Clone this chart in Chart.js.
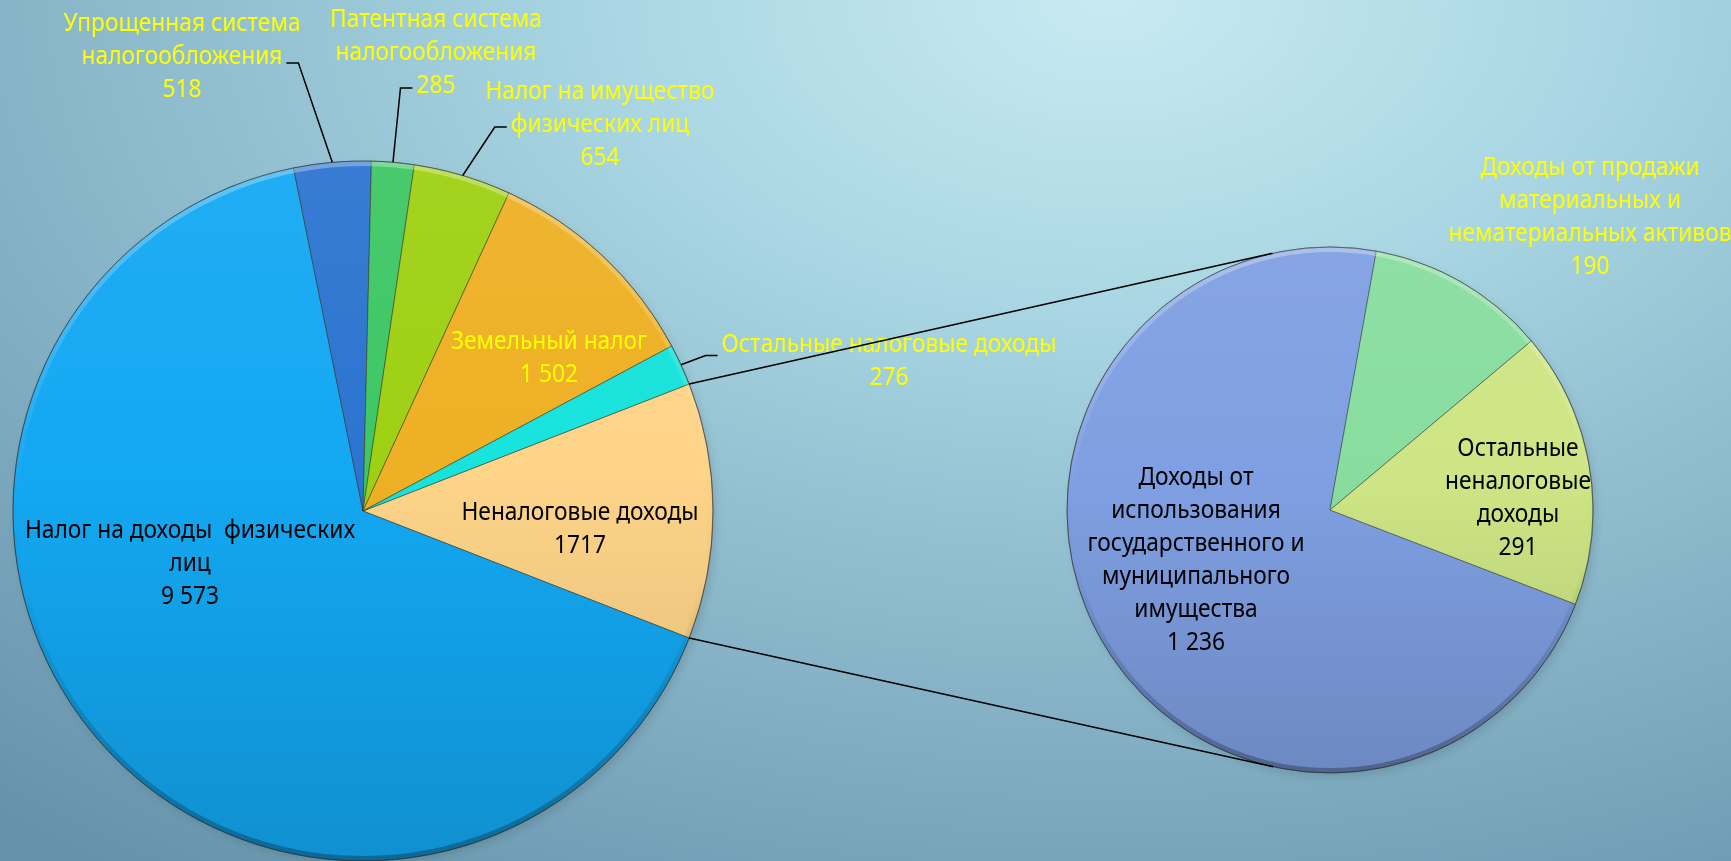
<!DOCTYPE html>
<html lang="ru">
<head>
<meta charset="utf-8">
<title>Структура доходов</title>
<script src="https://cdn.jsdelivr.net/npm/chart.js@4.4.1/dist/chart.umd.min.js"></script>
<style>
  html, body { margin: 0; padding: 0; width: 1731px; height: 861px; overflow: hidden; }
  body {
    background: radial-gradient(ellipse 100% 125% at 64% 0%, #c8eaf2 0%, #aad7e3 28%, #88b5c8 62%, #6592aa 100%);
  }
  canvas { position: absolute; left: 0; top: 0; }
</style>
</head>
<body>
<canvas id="mainPie" width="1731" height="861"></canvas>
<canvas id="subPie" width="1731" height="861"></canvas>
<script>
// основной круг
const mainCategories = [
  ['Неналоговые доходы'],
  ['Налог на доходы  физических', 'лиц'],
  ['Упрощенная система', 'налогообложения'],
  ['Патентная система', 'налогообложения'],
  ['Налог на имущество', 'физических лиц'],
  ['Земельный налог'],
  ['Остальные налоговые доходы'],
];
const mainValues = [1717, 9573, 518, 285, 654, 1502, 276];
const mainValueText = ['1717', '9 573', '518', '285', '654', '1 502', '276'];

// вторичный круг (расшифровка неналоговых доходов)
const subCategories = [
  ['Доходы от', 'использования', 'государственного и', 'муниципального', 'имущества'],
  ['Доходы от продажи', 'материальных и', 'нематериальных активов'],
  ['Остальные', 'неналоговые', 'доходы'],
];
const subValues = [1236, 190, 291];
const subValueText = ['1 236', '190', '291'];

const mainColors = ['#fdd488', '#13a8f2', '#2b74d0', '#3dc764', '#9ed012', '#eeb024', '#17e3dc'];
const subColors = ['#7f9fe2', '#88dd9e', '#cde584'];

const FONT = '26px "Noto Sans", "Open Sans", sans-serif';
const TEXT_SX = 0.875; // узкий шрифт, как Calibri
const LINE_H = 33;

// положение подписей относительно центра круга (px)
const mainLabelPos = [
  { dx: 217, dy: 18, color: '#000' },
  { dx: -173, dy: 53, color: '#000' },
  { dx: -181, dy: -454, color: '#ffff00', leader: { line: 1, side: 'right', dy: 6 } },
  { dx: 73, dy: -458, color: '#ffff00', leader: { line: 2, side: 'left', dy: 2 } },
  { dx: 237, dy: -386, color: '#ffff00', leader: { line: 1, side: 'left', dy: 2 } },
  { dx: 186, dy: -153, color: '#ffff00' },
  { dx: 526, dy: -150, color: '#ffff00', leader: { line: 0, side: 'left', dy: 11 } },
];
const subLabelPos = [
  { dx: -134, dy: 50, color: '#000' },
  { dx: 260, dy: -293, color: '#ffff00' },
  { dx: 188, dy: -12, color: '#000' },
];

function shade(hex, amt) {
  const n = parseInt(hex.slice(1), 16);
  const f = c => Math.round(amt < 0 ? c * (1 + amt) : c + (255 - c) * amt);
  return `rgb(${f((n >> 16) & 255)}, ${f((n >> 8) & 255)}, ${f(n & 255)})`;
}

function sliceFill(colors, r) {
  return function (ctx) {
    const area = ctx.chart.chartArea;
    const base = colors[ctx.dataIndex];
    if (!area) return base;
    const cy = (area.top + area.bottom) / 2;
    const g = ctx.chart.ctx.createLinearGradient(0, cy - r, 0, cy + r);
    g.addColorStop(0, shade(base, 0.06));
    g.addColorStop(0.45, base);
    g.addColorStop(1, shade(base, -0.14));
    return g;
  };
}

const pieShadow = {
  id: 'pieShadow',
  beforeDatasetsDraw(chart) {
    const a = chart.getDatasetMeta(0).data[0];
    const ctx = chart.ctx;
    ctx.save();
    ctx.shadowColor = 'rgba(0, 0, 0, 0.45)';
    ctx.shadowBlur = 10;
    ctx.shadowOffsetX = 3;
    ctx.shadowOffsetY = 4;
    ctx.fillStyle = 'rgba(0, 0, 0, 0.3)';
    ctx.beginPath();
    ctx.arc(a.x, a.y, a.outerRadius - 1, 0, Math.PI * 2);
    ctx.fill();
    ctx.restore();
  },
};

const bevel = {
  id: 'bevel',
  afterDatasetsDraw(chart) {
    const a = chart.getDatasetMeta(0).data[0];
    const ctx = chart.ctx;
    const R = a.outerRadius;
    ctx.save();
    ctx.beginPath();
    ctx.arc(a.x, a.y, R, 0, Math.PI * 2);
    ctx.clip();
    const g = ctx.createLinearGradient(0, a.y - R, 0, a.y + R);
    g.addColorStop(0, 'rgba(255, 255, 255, 0.3)');
    g.addColorStop(0.4, 'rgba(255, 255, 255, 0.05)');
    g.addColorStop(0.6, 'rgba(0, 0, 0, 0)');
    g.addColorStop(1, 'rgba(0, 0, 0, 0.28)');
    ctx.strokeStyle = g;
    ctx.lineWidth = 10;
    ctx.beginPath();
    ctx.arc(a.x, a.y, R, 0, Math.PI * 2);
    ctx.stroke();
    ctx.restore();
    ctx.save();
    ctx.strokeStyle = 'rgba(40, 40, 40, 0.5)';
    ctx.lineWidth = 1;
    ctx.beginPath();
    ctx.arc(a.x, a.y, R, 0, Math.PI * 2);
    ctx.stroke();
    ctx.restore();
  },
};

function drawText(ctx, s, x, y) {
  ctx.save();
  ctx.translate(x, y);
  ctx.scale(TEXT_SX, 1);
  ctx.fillText(s, 0, 0);
  ctx.restore();
}

const sliceLabels = {
  id: 'sliceLabels',
  afterDatasetsDraw(chart, args, opts) {
    const ctx = chart.ctx;
    const arcs = chart.getDatasetMeta(0).data;
    ctx.save();
    ctx.font = FONT;
    ctx.textAlign = 'center';
    ctx.textBaseline = 'middle';
    opts.pos.forEach((p, i) => {
      const arc = arcs[i];
      const lines = [...opts.lines[i], opts.values[i]];
      const cx = arc.x + p.dx;
      const cy = arc.y + p.dy;
      const top = cy - (lines.length - 1) * LINE_H / 2;
      if (p.leader) {
        const k = p.leader.line;
        const w = ctx.measureText(lines[k]).width * TEXT_SX;
        const side = p.leader.side === 'left' ? -1 : 1;
        const ax = cx + side * (w / 2 + 4);
        const ay = top + k * LINE_H + (p.leader.dy || 0);
        const bx = ax + side * 12;
        const mid = (arc.startAngle + arc.endAngle) / 2;
        const px = arc.x + Math.cos(mid) * arc.outerRadius;
        const py = arc.y + Math.sin(mid) * arc.outerRadius;
        ctx.strokeStyle = '#000';
        ctx.lineWidth = 1.5;
        ctx.beginPath();
        ctx.moveTo(ax, ay);
        ctx.lineTo(bx, ay);
        ctx.lineTo(px, py);
        ctx.stroke();
      }
      ctx.fillStyle = p.color;
      lines.forEach((s, k) => drawText(ctx, s, cx, top + k * LINE_H));
    });
    ctx.restore();
  },
};

let leftChart = null;

// линии-связки от сектора "Неналоговые доходы" к касательным второго круга
const connector = {
  id: 'connector',
  afterDraw(chart) {
    if (!leftChart) return;
    const src = leftChart.getDatasetMeta(0).data[0];
    const dst = chart.getDatasetMeta(0).data[0];
    const r = dst.outerRadius;
    const ctx = chart.ctx;
    ctx.save();
    ctx.strokeStyle = '#000';
    ctx.lineWidth = 1.5;
    [src.startAngle, src.endAngle].forEach((ang, k) => {
      const px = src.x + Math.cos(ang) * src.outerRadius;
      const py = src.y + Math.sin(ang) * src.outerRadius;
      const dx = px - dst.x, dy = py - dst.y;
      const d = Math.hypot(dx, dy);
      const base = Math.atan2(dy, dx);
      const off = Math.acos(r / d);
      const t = k === 0 ? base + off : base - off;
      ctx.beginPath();
      ctx.moveTo(px, py);
      ctx.lineTo(dst.x + Math.cos(t) * r, dst.y + Math.sin(t) * r);
      ctx.stroke();
    });
    ctx.restore();
  },
};

const mainTotal = mainValues.reduce((s, v) => s + v, 0);
const MAIN_R = 350;
const SUB_R = 263;

leftChart = new Chart(document.getElementById('mainPie').getContext('2d'), {
  type: 'pie',
  data: {
    labels: mainCategories.map(l => l.join(' ')),
    datasets: [{
      data: mainValues,
      backgroundColor: sliceFill(mainColors, MAIN_R),
      borderColor: 'rgba(60, 50, 30, 0.5)',
      borderWidth: 1,
    }],
  },
  options: {
    responsive: false,
    animation: false,
    events: [],
    radius: MAIN_R,
    // сектор неналоговых доходов центрирован на 3 часа
    rotation: 90 - (mainValues[0] / mainTotal * 360) / 2,
    layout: { padding: { left: 13, right: 1018, top: 161, bottom: 0 } },
    plugins: {
      legend: { display: false },
      tooltip: { enabled: false },
      sliceLabels: { lines: mainCategories, values: mainValueText, pos: mainLabelPos },
    },
  },
  plugins: [pieShadow, bevel, sliceLabels],
});

new Chart(document.getElementById('subPie').getContext('2d'), {
  type: 'pie',
  data: {
    labels: subCategories.map(l => l.join(' ')),
    datasets: [{
      data: subValues,
      backgroundColor: sliceFill(subColors, SUB_R),
      borderColor: 'rgba(50, 60, 60, 0.5)',
      borderWidth: 1,
    }],
  },
  options: {
    responsive: false,
    animation: false,
    events: [],
    radius: SUB_R,
    rotation: 111,
    layout: { padding: { left: 1067, right: 138, top: 247, bottom: 88 } },
    plugins: {
      legend: { display: false },
      tooltip: { enabled: false },
      sliceLabels: { lines: subCategories, values: subValueText, pos: subLabelPos },
    },
  },
  plugins: [pieShadow, bevel, sliceLabels, connector],
});
</script>
</body>
</html>
